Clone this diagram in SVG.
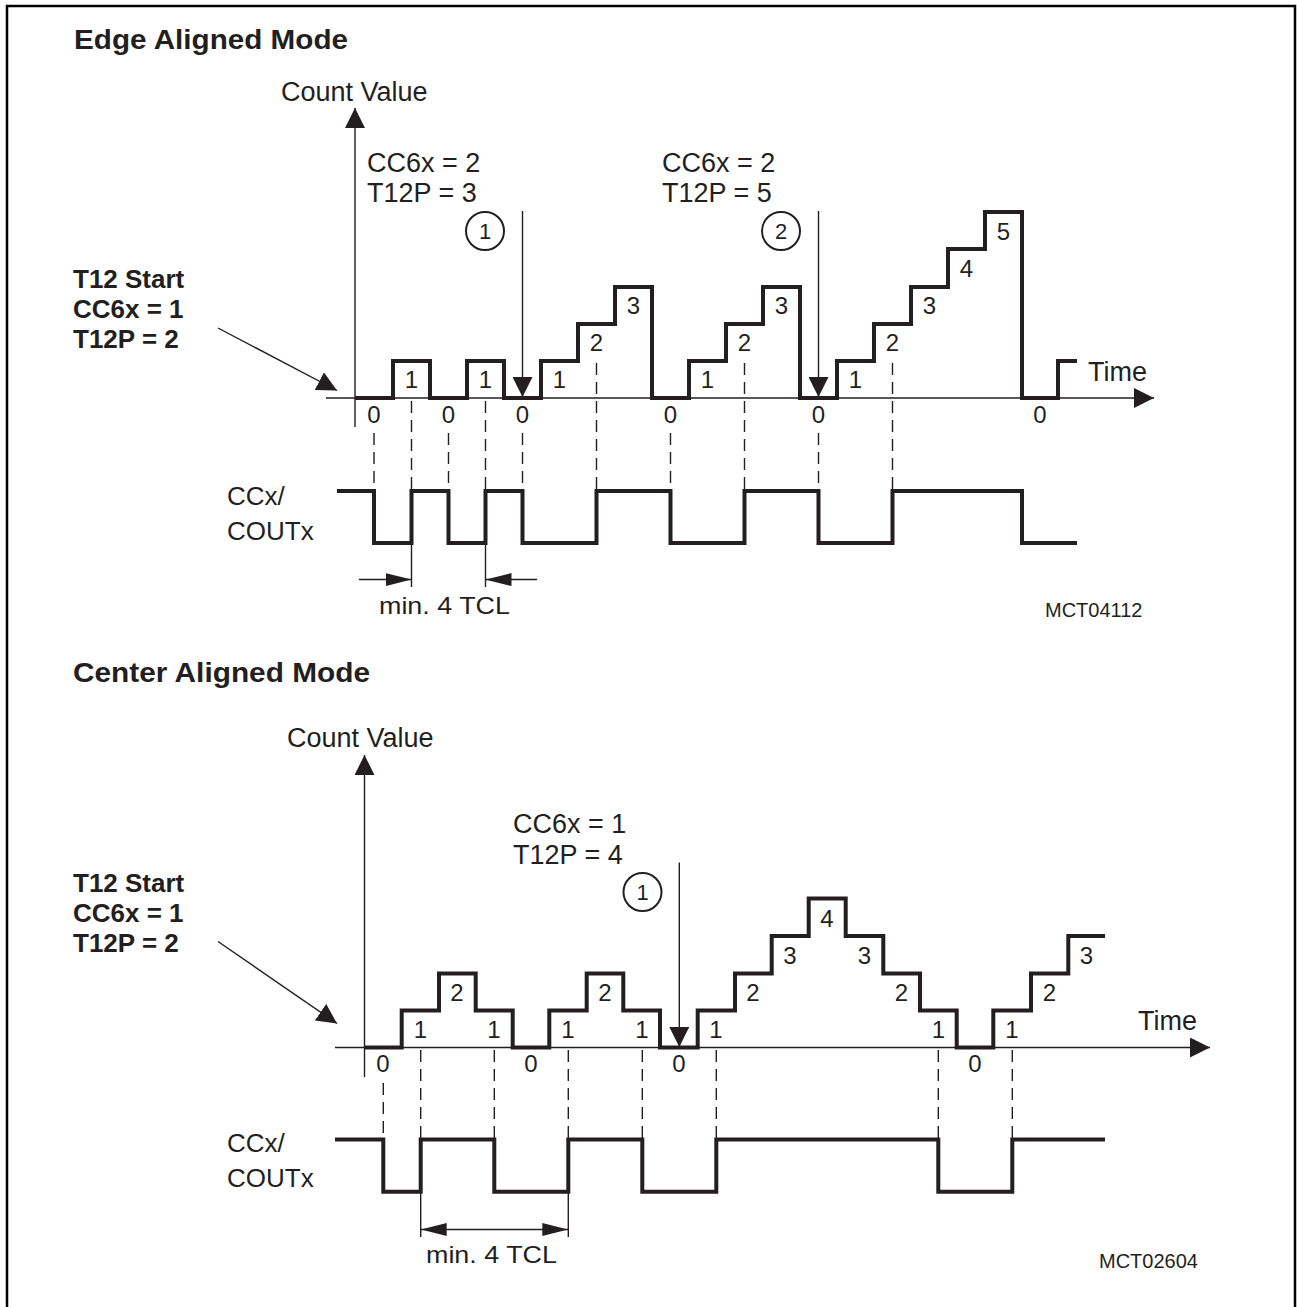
<svg xmlns="http://www.w3.org/2000/svg" width="1297" height="1307" viewBox="0 0 1297 1307">
<style>
  text { font-family: "Liberation Sans", Arial, sans-serif; fill: #231f20; }
  .title { font-size: 28px; font-weight: bold; }
  .bold { font-size: 26px; font-weight: bold; }
  .lbl { font-size: 27px; }
  .sig { font-size: 26px; }
  .dig { font-size: 24px; text-anchor: middle; }
  .cdig { font-size: 22px; text-anchor: middle; }
  .tcl { font-size: 24px; }
  .id { font-size: 20px; }
  .wave { fill: none; stroke: #231f20; stroke-width: 4; stroke-linejoin: miter; stroke-linecap: butt; }
  .axis { fill: none; stroke: #231f20; stroke-width: 1.4; }
  .dash { fill: none; stroke: #231f20; stroke-width: 1.4; stroke-dasharray: 12 7; }
  .circ { fill: none; stroke: #231f20; stroke-width: 2; }
</style>
<defs>
  <marker id="big" viewBox="0 0 20 20" refX="20" refY="10" markerWidth="20" markerHeight="20" markerUnits="userSpaceOnUse" orient="auto">
    <path d="M0,0 L20,10 L0,20 z" fill="#231f20"/>
  </marker>
  <marker id="small" viewBox="0 0 26 13" refX="26" refY="6.5" markerWidth="26" markerHeight="13" markerUnits="userSpaceOnUse" orient="auto">
    <path d="M0,0 L26,6.5 L0,13 z" fill="#231f20"/>
  </marker>
  <marker id="smallStart" viewBox="0 0 26 13" refX="0" refY="6.5" markerWidth="26" markerHeight="13" markerUnits="userSpaceOnUse" orient="auto">
    <path d="M26,0 L0,6.5 L26,13 z" fill="#231f20"/>
  </marker>
</defs>
<rect x="0" y="0" width="1297" height="1307" fill="#ffffff"/>
<path d="M7,1310 V6 H1295 V1310" fill="none" stroke="#000" stroke-width="2.5"/>

<!-- ================= EDGE ALIGNED MODE ================= -->
<g id="edge-title">
  <text class="title" x="74" y="49" textLength="274" lengthAdjust="spacingAndGlyphs">Edge Aligned Mode</text>
</g>
<g id="edge-start-label">
  <text class="bold" x="73" y="288">T12 Start</text>
  <text class="bold" x="73" y="318">CC6x = 1</text>
  <text class="bold" x="73" y="348">T12P = 2</text>
</g>
<g id="edge-axes-labels">
  <text class="lbl" x="281" y="101">Count Value</text>
  <text class="lbl" x="1088" y="381">Time</text>
  <text class="lbl" x="367" y="172">CC6x = 2</text>
  <text class="lbl" x="367" y="202">T12P = 3</text>
  <text class="lbl" x="662" y="172">CC6x = 2</text>
  <text class="lbl" x="662" y="202">T12P = 5</text>
  <text class="sig" x="227" y="505">CCx/</text>
  <text class="sig" x="227" y="540">COUTx</text>
  <text class="tcl" x="379" y="614" textLength="131" lengthAdjust="spacingAndGlyphs">min. 4 TCL</text>
  <text class="id" x="1045" y="617">MCT04112</text>
</g>
<g id="edge-markers">
  <circle class="circ" cx="485" cy="231" r="19"/>
  <text class="cdig" x="485" y="239">1</text>
  <circle class="circ" cx="781" cy="231" r="19"/>
  <text class="cdig" x="781" y="239">2</text>
</g>
<g id="edge-count-wave">
  <path class="wave" d="M355,398 H393 V361 H430 V398 H467 V361 H504 V398 H541 V361 H578 V324 H615 V287 H652 V398 H689 V361 H726 V324 H763 V287 H800 V398 H837 V361 H874 V324 H911 V287 H948 V249 H985 V212 H1022 V398 H1058 V361 H1077"/>
  <text class="dig" x="411.5" y="388">1</text>
  <text class="dig" x="485.5" y="388">1</text>
  <text class="dig" x="559.5" y="388">1</text>
  <text class="dig" x="596.5" y="351">2</text>
  <text class="dig" x="633.5" y="314">3</text>
  <text class="dig" x="707.5" y="388">1</text>
  <text class="dig" x="744.5" y="351">2</text>
  <text class="dig" x="781.5" y="314">3</text>
  <text class="dig" x="855.5" y="388">1</text>
  <text class="dig" x="892.5" y="351">2</text>
  <text class="dig" x="929.5" y="314">3</text>
  <text class="dig" x="966.5" y="277">4</text>
  <text class="dig" x="1003.5" y="240">5</text>
  <text class="dig" x="374" y="423">0</text>
  <text class="dig" x="448.5" y="423">0</text>
  <text class="dig" x="522.5" y="423">0</text>
  <text class="dig" x="670.5" y="423">0</text>
  <text class="dig" x="818.5" y="423">0</text>
  <text class="dig" x="1040" y="423">0</text>
</g>
<g id="edge-ccx-wave">
  <path class="wave" d="M337,491 H374 V543 H411.5 V491 H448.5 V543 H485.5 V491 H522.5 V543 H596.5 V491 H670.5 V543 H744.5 V491 H818.5 V543 H892.5 V491 H1022 V543 H1077"/>
</g>
<g id="edge-connectors">
  <line class="axis" x1="355" y1="427" x2="355" y2="108" marker-end="url(#big)"/>
  <line class="axis" x1="326" y1="398" x2="1154" y2="398" marker-end="url(#big)"/>
  <line class="axis" x1="218" y1="328" x2="337" y2="390.5" marker-end="url(#big)"/>
  <line class="axis" x1="522.5" y1="211" x2="522.5" y2="397" marker-end="url(#big)"/>
  <line class="axis" x1="818.5" y1="211" x2="818.5" y2="397" marker-end="url(#big)"/>
  <line class="dash" x1="411.5" y1="401" x2="411.5" y2="490"/>
  <line class="dash" x1="485.5" y1="401" x2="485.5" y2="490"/>
  <line class="dash" x1="596.5" y1="363" x2="596.5" y2="490"/>
  <line class="dash" x1="744.5" y1="363" x2="744.5" y2="490"/>
  <line class="dash" x1="892.5" y1="363" x2="892.5" y2="490"/>
  <line class="dash" x1="374" y1="433" x2="374" y2="490"/>
  <line class="dash" x1="448.5" y1="433" x2="448.5" y2="490"/>
  <line class="dash" x1="522.5" y1="433" x2="522.5" y2="490"/>
  <line class="dash" x1="670.5" y1="433" x2="670.5" y2="490"/>
  <line class="dash" x1="818.5" y1="433" x2="818.5" y2="490"/>
  <line class="axis" x1="411.5" y1="545" x2="411.5" y2="587"/>
  <line class="axis" x1="485.5" y1="545" x2="485.5" y2="587"/>
  <line class="axis" x1="359" y1="579.5" x2="411.5" y2="579.5" marker-end="url(#small)"/>
  <line class="axis" x1="537" y1="579.5" x2="485.5" y2="579.5" marker-end="url(#small)"/>
</g>

<!-- ================= CENTER ALIGNED MODE ================= -->
<g id="center-title">
  <text class="title" x="73" y="682" textLength="297" lengthAdjust="spacingAndGlyphs">Center Aligned Mode</text>
</g>
<g id="center-start-label">
  <text class="bold" x="73" y="892">T12 Start</text>
  <text class="bold" x="73" y="922">CC6x = 1</text>
  <text class="bold" x="73" y="952">T12P = 2</text>
</g>
<g id="center-axes-labels">
  <text class="lbl" x="287" y="747">Count Value</text>
  <text class="lbl" x="1138" y="1030">Time</text>
  <text class="lbl" x="513" y="833">CC6x = 1</text>
  <text class="lbl" x="513" y="864">T12P = 4</text>
  <text class="sig" x="227" y="1152">CCx/</text>
  <text class="sig" x="227" y="1187">COUTx</text>
  <text class="tcl" x="426" y="1263" textLength="131" lengthAdjust="spacingAndGlyphs">min. 4 TCL</text>
  <text class="id" x="1099" y="1268">MCT02604</text>
</g>
<g id="center-markers">
  <circle class="circ" cx="642.5" cy="892" r="19"/>
  <text class="cdig" x="642.5" y="900">1</text>
</g>
<g id="center-count-wave">
  <path class="wave" d="M364,1047.5 H401.7 V1010.5 H439 V973.5 H475.7 V1010.5 H512.7 V1047.5 H549.3 V1010.5 H586.7 V973.5 H623.3 V1010.5 H660 V1047.5 H697.7 V1010.5 H735 V973.5 H771.7 V936 H808.7 V898.5 H845.7 V936 H883.3 V973.5 H920 V1010.5 H956.7 V1047.5 H993.3 V1010.5 H1031 V973.5 H1068.3 V936 H1105"/>
  <text class="dig" x="420.5" y="1038">1</text>
  <text class="dig" x="457" y="1001">2</text>
  <text class="dig" x="494" y="1038">1</text>
  <text class="dig" x="568" y="1038">1</text>
  <text class="dig" x="605" y="1001">2</text>
  <text class="dig" x="642" y="1038">1</text>
  <text class="dig" x="716" y="1038">1</text>
  <text class="dig" x="753" y="1001">2</text>
  <text class="dig" x="790" y="964">3</text>
  <text class="dig" x="827" y="927">4</text>
  <text class="dig" x="864.5" y="964">3</text>
  <text class="dig" x="901.5" y="1001">2</text>
  <text class="dig" x="938.5" y="1038">1</text>
  <text class="dig" x="1012" y="1038">1</text>
  <text class="dig" x="1049.5" y="1001">2</text>
  <text class="dig" x="1086.5" y="964">3</text>
  <text class="dig" x="383" y="1072">0</text>
  <text class="dig" x="531" y="1072">0</text>
  <text class="dig" x="679" y="1072">0</text>
  <text class="dig" x="975" y="1072">0</text>
</g>
<g id="center-ccx-wave">
  <path class="wave" d="M335,1139.5 H383.3 V1191.7 H420.7 V1139.5 H494.3 V1191.7 H568.3 V1139.5 H642.3 V1191.7 H716.3 V1139.5 H938.3 V1191.7 H1012.3 V1139.5 H1105"/>
</g>
<g id="center-connectors">
  <line class="axis" x1="364.5" y1="1077" x2="364.5" y2="755" marker-end="url(#big)"/>
  <line class="axis" x1="335" y1="1047.5" x2="1210" y2="1047.5" marker-end="url(#big)"/>
  <line class="axis" x1="218" y1="941.5" x2="337" y2="1023.5" marker-end="url(#big)"/>
  <line class="axis" x1="679.3" y1="862.5" x2="679.3" y2="1047" marker-end="url(#big)"/>
  <line class="dash" x1="420.7" y1="1050" x2="420.7" y2="1138"/>
  <line class="dash" x1="494.3" y1="1050" x2="494.3" y2="1138"/>
  <line class="dash" x1="568.3" y1="1050" x2="568.3" y2="1138"/>
  <line class="dash" x1="642.3" y1="1050" x2="642.3" y2="1138"/>
  <line class="dash" x1="716.3" y1="1050" x2="716.3" y2="1138"/>
  <line class="dash" x1="938.3" y1="1050" x2="938.3" y2="1138"/>
  <line class="dash" x1="1012.3" y1="1050" x2="1012.3" y2="1138"/>
  <line class="dash" x1="383.3" y1="1083" x2="383.3" y2="1138"/>
  <line class="axis" x1="420.7" y1="1193" x2="420.7" y2="1237"/>
  <line class="axis" x1="568.3" y1="1193" x2="568.3" y2="1237"/>
  <line class="axis" x1="420.7" y1="1229.5" x2="568.3" y2="1229.5" marker-start="url(#smallStart)" marker-end="url(#small)"/>
</g>
</svg>
